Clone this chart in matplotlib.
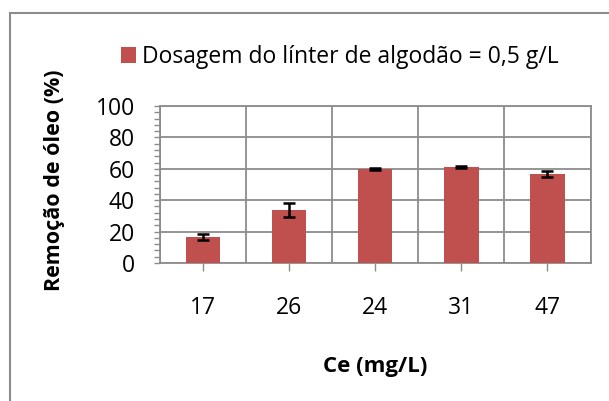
import matplotlib
matplotlib.use("Agg")
import matplotlib.pyplot as plt
from matplotlib.lines import Line2D
from matplotlib.patches import Patch
from matplotlib.ticker import MultipleLocator, FixedLocator

categories = ["17", "26", "24", "31", "47"]
values = [16.7, 33.8, 59.9, 61.0, 56.7]
errors = [1.8, 4.4, 0.6, 0.5, 2.0]
legend_label = "Dosagem do línter de algodão = 0,5 g/L"
xlabel = "Ce (mg/L)"
ylabel = "Remoção de óleo (%)"

plt.rcParams['font.family'] = ['Open Sans', 'DejaVu Sans']
FS = 16.5

W, H = 609, 401
fig = plt.figure(figsize=(W / 100, H / 100), dpi=100)
fig.patch.set_facecolor("white")

left, right, top, bottom = 160, 590.5, 106, 263
ax = fig.add_axes([left / W, 1 - bottom / H, (right - left) / W, (bottom - top) / H])

bar_color = "#C0504D"
x = list(range(len(categories)))
ax.bar(x, values, width=0.4, color=bar_color, zorder=3,
       yerr=errors, capsize=4,
       error_kw=dict(ecolor="black", elinewidth=1.8, capthick=1.8, zorder=4))

ax.set_xlim(-0.5, len(categories) - 0.5)
ax.set_ylim(0, 100)
ax.yaxis.set_major_locator(MultipleLocator(20))
ax.yaxis.set_minor_locator(MultipleLocator(4))
ax.set_xticks(x)
ax.set_xticklabels(categories)
ax.xaxis.set_minor_locator(FixedLocator([i - 0.5 for i in range(len(categories) + 1)]))

grid_c = "#8C8C8C"
ax.grid(True, which="major", axis="y", color=grid_c, linewidth=1.3, zorder=0)
ax.grid(True, which="minor", axis="x", color=grid_c, linewidth=1.3, zorder=0)

for s in ["left", "bottom", "top", "right"]:
    ax.spines[s].set_color(grid_c)
    ax.spines[s].set_linewidth(1.3)

ax.tick_params(axis="y", which="both", direction="out", color=grid_c, width=1.0,
               labelsize=FS, pad=14)
ax.tick_params(axis="y", which="major", length=4)
ax.tick_params(axis="y", which="minor", length=4)
ax.tick_params(axis="x", which="major", direction="out", length=6, color=grid_c,
               width=1.0, labelsize=FS, pad=18)
ax.tick_params(axis="x", which="minor", length=0)

ax.set_xlabel(xlabel, fontsize=16, fontweight="bold", labelpad=26)
ax.set_ylabel(ylabel, fontsize=15.5, fontweight="bold", labelpad=22)
ax.yaxis.label.set_y(0.53)

handle = Patch(facecolor=bar_color, edgecolor="none")
fig.legend([handle], [legend_label], loc="center left",
           bbox_to_anchor=(100 / W, 1 - 57 / H), frameon=False,
           fontsize=FS, handlelength=0.65, handleheight=0.65, handletextpad=0.3)

# outer chart border (left and top visible)
fig.add_artist(Line2D([10 / W, 10 / W], [0, 1 - 12.5 / H], transform=fig.transFigure,
                      color="#8C8C8C", linewidth=1.5))
fig.add_artist(Line2D([10 / W, 1], [1 - 12.5 / H, 1 - 12.5 / H], transform=fig.transFigure,
                      color="#8C8C8C", linewidth=1.5))

fig.savefig("out.png", dpi=100)
